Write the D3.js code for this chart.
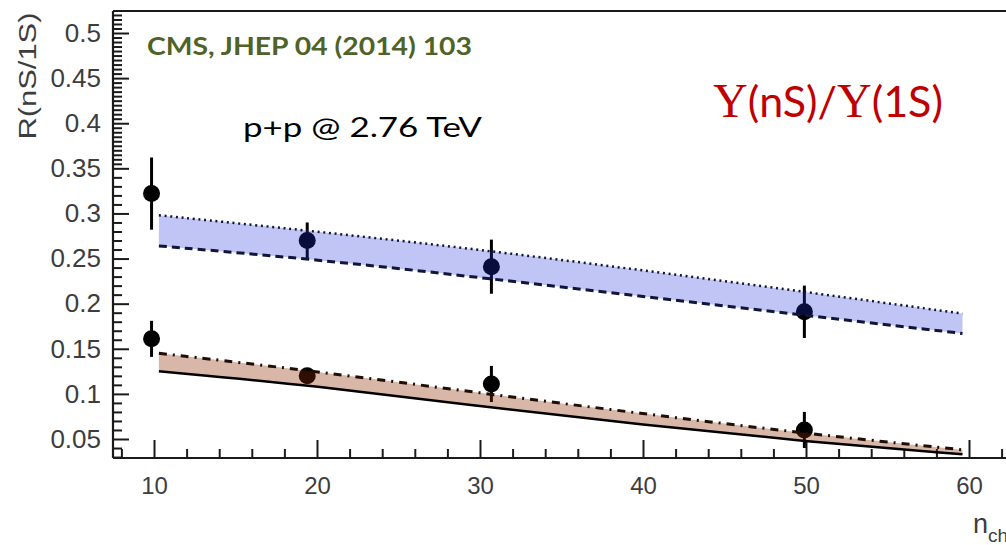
<!DOCTYPE html>
<html>
<head>
<meta charset="utf-8">
<script src="https://cdn.jsdelivr.net/npm/d3@7"></script>
<style>
	html, body { margin: 0; padding: 0; background: #fff; }
	svg { display: block; }
</style>
</head>
<body>
<svg width="1006" height="545"></svg>
<script>
// tick values and labels
var xTicks = [10, 20, 30, 40, 50, 60];
var xTickLabels = ["10", "20", "30", "40", "50", "60"];
var yTicks = [0.05, 0.1, 0.15, 0.2, 0.25, 0.3, 0.35, 0.4, 0.45, 0.5];
var yTickLabels = ["0.05", "0.1", "0.15", "0.2", "0.25", "0.3", "0.35", "0.4", "0.45", "0.5"];

// CMS points (n_ch, ratio, error)
var pointX = [9.85, 19.4, 30.7, 49.9];
var upperY = [0.322, 0.270, 0.241, 0.191];
var upperErr = [0.040, 0.020, 0.030, 0.029];
var lowerY = [0.161, 0.120, 0.111, 0.060];
var lowerErr = [0.020, 0.008, 0.020, 0.020];

// model bands
var bandX = [10.3, 20, 30, 40, 50, 59.6];
var upperHi = [0.298, 0.280, 0.260, 0.237, 0.213, 0.189];
var upperLo = [0.264, 0.249, 0.229, 0.208, 0.187, 0.167];
var lowerHi = [0.145, 0.125, 0.101, 0.078, 0.056, 0.038];
var lowerLo = [0.125, 0.109, 0.086, 0.066, 0.047, 0.033];

(function() {
	var svg = d3.select("svg");

	var left = 113, top = 11, bottom = 458, right = 1010;

	var x = d3.scaleLinear().domain([10, 60]).range([154, 969]);
	var y = d3.scaleLinear().domain([0.05, 0.5]).range([439, 33]);

	var sans = "'Liberation Sans', Arial, Helvetica, sans-serif";
	var textGray = "#3d3d3d";

	// frame
	var frame = svg.append("g").attr("stroke", "#1a1a1a").attr("stroke-width", 2.2);
	frame.append("line").attr("x1", left).attr("x2", right).attr("y1", top).attr("y2", top);
	frame.append("line").attr("x1", left).attr("x2", left).attr("y1", top).attr("y2", bottom);
	frame.append("line").attr("x1", left).attr("x2", right).attr("y1", bottom).attr("y2", bottom);

	// y axis minor ticks: 0.01 below 0.35, 0.005 above
	var yMinor = d3.range(3, 35).map(function(d) { return d / 100; })
		.concat(d3.range(70, 105).map(function(d) { return d / 200; }))
		.filter(function(d) { return Math.abs(d * 20 - Math.round(d * 20)) > 1e-6; });

	var yMin = svg.append("g").attr("transform", "translate(" + left + ",0)")
		.call(d3.axisLeft(y).tickValues(yMinor).tickFormat("").tickSizeInner(-9).tickSizeOuter(0));
	yMin.select(".domain").remove();
	yMin.selectAll("line").attr("stroke", "#1a1a1a").attr("stroke-width", 2);

	var yAx = svg.append("g").attr("transform", "translate(" + left + ",0)")
		.call(d3.axisLeft(y).tickValues(yTicks)
			.tickFormat(function(d, i) { return yTickLabels[i]; })
			.tickSizeInner(-16).tickSizeOuter(0).tickPadding(12));
	yAx.attr("font-family", sans).attr("font-size", 26);
	yAx.select(".domain").remove();
	yAx.selectAll("line").attr("stroke", "#1a1a1a").attr("stroke-width", 2);
	yAx.selectAll("text").attr("fill", textGray);

	// x axis
	var xMinor = d3.range(8, 63, 2).filter(function(d) { return d % 10 !== 0; });
	var xMin = svg.append("g").attr("transform", "translate(0," + bottom + ")")
		.call(d3.axisBottom(x).tickValues(xMinor).tickFormat("").tickSizeInner(-9).tickSizeOuter(0));
	xMin.select(".domain").remove();
	xMin.selectAll("line").attr("stroke", "#1a1a1a").attr("stroke-width", 2);

	var xAx = svg.append("g").attr("transform", "translate(0," + bottom + ")")
		.call(d3.axisBottom(x).tickValues(xTicks)
			.tickFormat(function(d, i) { return xTickLabels[i]; })
			.tickSizeInner(-18).tickSizeOuter(0).tickPadding(19));
	xAx.attr("font-family", sans).attr("font-size", 24);
	xAx.select(".domain").remove();
	xAx.selectAll("line").attr("stroke", "#1a1a1a").attr("stroke-width", 2);
	xAx.selectAll("text").attr("fill", textGray);

	// axis titles
	svg.append("text")
		.attr("transform", "translate(36,76) rotate(-90)")
		.attr("text-anchor", "middle")
		.attr("textLength", 127)
		.attr("lengthAdjust", "spacingAndGlyphs")
		.attr("font-family", sans).attr("font-size", 23)
		.attr("fill", textGray)
		.text("R(nS/1S)");

	var xt = svg.append("text")
		.attr("x", 973).attr("y", 533)
		.attr("font-family", sans).attr("font-size", 27)
		.attr("fill", textGray)
		.text("n");
	xt.append("tspan").attr("dy", 9).attr("font-size", 19).text("ch");

	// data points (drawn under the bands)
	var pts = pointX.map(function(d, i) {
		return [{x: d, y: upperY[i], e: upperErr[i]}, {x: d, y: lowerY[i], e: lowerErr[i]}];
	}).flat();

	var pg = svg.append("g");
	pg.selectAll("line.err").data(pts).enter().append("line")
		.attr("class", "err")
		.attr("x1", function(d) { return x(d.x); })
		.attr("x2", function(d) { return x(d.x); })
		.attr("y1", function(d) { return y(d.y + d.e); })
		.attr("y2", function(d) { return y(d.y - d.e); })
		.attr("stroke", "#000").attr("stroke-width", 3);
	pg.selectAll("circle").data(pts).enter().append("circle")
		.attr("cx", function(d) { return x(d.x); })
		.attr("cy", function(d) { return y(d.y); })
		.attr("r", 8.5)
		.attr("fill", "#000");

	// bands
	function bandData(hi, lo) {
		return bandX.map(function(d, i) { return {x: d, hi: hi[i], lo: lo[i]}; });
	}
	var curve = d3.curveBasis;
	var area = d3.area().curve(curve)
		.x(function(d) { return x(d.x); })
		.y0(function(d) { return y(d.lo); })
		.y1(function(d) { return y(d.hi); });
	var lineHi = d3.line().curve(curve)
		.x(function(d) { return x(d.x); })
		.y(function(d) { return y(d.hi); });
	var lineLo = d3.line().curve(curve)
		.x(function(d) { return x(d.x); })
		.y(function(d) { return y(d.lo); });

	var upper = bandData(upperHi, upperLo);
	var lower = bandData(lowerHi, lowerLo);

	svg.append("path").datum(upper).attr("d", area)
		.attr("fill", "rgb(30,48,222)").attr("fill-opacity", 0.28);
	svg.append("path").datum(lower).attr("d", area)
		.attr("fill", "rgb(140,40,0)").attr("fill-opacity", 0.34);

	svg.append("path").datum(upper).attr("d", lineHi)
		.attr("fill", "none").attr("stroke", "#10153a").attr("stroke-width", 2.5)
		.attr("stroke-dasharray", "2,3.7");
	svg.append("path").datum(upper).attr("d", lineLo)
		.attr("fill", "none").attr("stroke", "#10153a").attr("stroke-width", 3)
		.attr("stroke-dasharray", "8,5");
	svg.append("path").datum(lower).attr("d", lineHi)
		.attr("fill", "none").attr("stroke", "#1e0e06").attr("stroke-width", 3)
		.attr("stroke-dasharray", "8,6,2,6");
	svg.append("path").datum(lower).attr("d", lineLo)
		.attr("fill", "none").attr("stroke", "#000").attr("stroke-width", 2.5);

	// annotations
	svg.append("text")
		.attr("x", 147).attr("y", 55)
		.attr("textLength", 325).attr("lengthAdjust", "spacingAndGlyphs")
		.attr("font-family", "Lato, 'Open Sans', sans-serif").attr("font-size", 24).attr("font-weight", "bold")
		.attr("fill", "#4f6228")
		.text("CMS, JHEP 04 (2014) 103");

	svg.append("text")
		.attr("x", 243).attr("y", 137)
		.attr("textLength", 239).attr("lengthAdjust", "spacingAndGlyphs")
		.attr("font-family", "Lato, 'Open Sans', sans-serif").attr("font-size", 26)
		.attr("fill", "#000")
		.text("p+p @ 2.76 TeV");

	var title = svg.append("text")
		.attr("x", 713).attr("y", 117)
		.attr("font-family", "Lato, 'Open Sans', sans-serif").attr("font-size", 43)
		.attr("fill", "#c00000");
	var serif = "'Liberation Serif', 'Times New Roman', serif";
	title.append("tspan").attr("font-family", serif).attr("font-size", 48).text("Υ");
	title.append("tspan").text("(nS)/");
	title.append("tspan").attr("font-family", serif).attr("font-size", 48).text("Υ");
	title.append("tspan").text("(1S)");
})();
</script>
</body>
</html>
